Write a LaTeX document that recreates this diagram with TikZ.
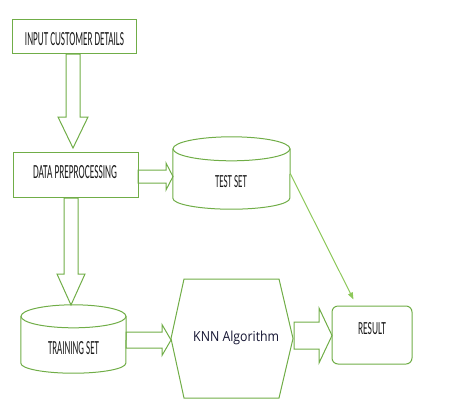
\documentclass[tikz,border=0pt]{standalone}
\usepackage{graphicx}
\usepackage{fontspec}
\setmainfont{Carlito}
\newfontfamily\knnfont{Open Sans}
\usetikzlibrary{calc,arrows.meta}
\definecolor{grn}{HTML}{70AD47}
\definecolor{lgrn}{HTML}{8DC85A}
\definecolor{txt}{HTML}{1A1A1A}
\definecolor{navy}{HTML}{141432}
\newcommand\sqtext[3]{\resizebox{#1pt}{#2pt}{#3}}
\newcommand\barrowdown[5]{\draw[blk] let \p1=(#1),\p2=(#2) in
  (\x1-#3pt,\y1) -- (\x1+#3pt,\y1) -- (\x1+#3pt,\y2+#5pt) -- (\x1+#4pt,\y2+#5pt) -- (\x2,\y2) -- (\x1-#4pt,\y2+#5pt) -- (\x1-#3pt,\y2+#5pt) -- cycle;}
\newcommand\barrowright[5]{\draw[blk] let \p1=(#1),\p2=(#2) in
  (\x1,\y1+#3pt) -- (\x2-#5pt,\y1+#3pt) -- (\x2-#5pt,\y1+#4pt) -- (\x2,\y2) -- (\x2-#5pt,\y1-#4pt) -- (\x2-#5pt,\y1-#3pt) -- (\x1,\y1-#3pt) -- cycle;}
\begin{document}
\begin{tikzpicture}[x=1pt,y=-1pt,
  shp/.style={draw=grn,line width=1pt,inner sep=0pt},
  blk/.style={draw=grn,line width=1pt},
  lbl/.style={inner sep=0pt,text=txt},
  link/.style={draw=lgrn,line width=1pt,-{Triangle[length=7pt,width=5pt]}}]
\useasboundingbox (0,0) rectangle (457,402);

% boxes
\node[shp,minimum width=124pt,minimum height=34pt] (inbox) at (74,36) {};
\node[lbl] (intext) at (74.5,39) {\sqtext{99}{13}{INPUT CUSTOMER DETAILS}};

\node[shp,minimum width=125pt,minimum height=45pt] (prep) at (75.5,174.5) {};
\node[lbl] (preptext) at (75,172.5) {\sqtext{84}{13}{DATA PREPROCESSING}};

% test set cylinder
\node[inner sep=0pt,minimum width=117pt,minimum height=49pt] (test) at (231.5,173.5) {};
\draw[blk] (test.north west) -- (test.south west) arc[start angle=180,end angle=360,x radius=58.5pt,y radius=11pt] -- (test.north east);
\draw[blk] (test.north) ellipse[x radius=58.5pt,y radius=12pt];
\node[lbl] (testtext) at (231,182) {\sqtext{32}{12}{TEST SET}};

% training set cylinder
\node[inner sep=0pt,minimum width=105pt,minimum height=46.5pt] (train) at (73.5,339.75) {};
\draw[blk] (train.north west) -- (train.south west) arc[start angle=180,end angle=360,x radius=52.5pt,y radius=10pt] -- (train.north east);
\draw[blk] (train.north) ellipse[x radius=52.5pt,y radius=11.5pt];
\node[lbl] (traintext) at (73.5,348.5) {\sqtext{51}{13}{TRAINING SET}};

% KNN hexagon
\draw[blk] (184,279) -- (279,279) -- (293,338.5) -- (279,398) -- (184,398) -- (171,338.5) -- cycle;
\node[inner sep=0pt,text=navy,anchor=base west] (knn) at (193,341) {\resizebox{86pt}{10.5pt}{\knnfont KNN Algorithm}};

% result
\node[shp,rounded corners=6pt,minimum width=80pt,minimum height=58pt] (result) at (372,335) {};
\node[lbl] (restext) at (372,329) {\sqtext{28}{12}{RESULT}};

% block arrows
\coordinate (a1s) at (73,54);   \coordinate (a1e) at (73,148);
\coordinate (a2s) at (138,176.5); \coordinate (a2e) at (173,176.5);
\coordinate (a3s) at (71,198);  \coordinate (a3e) at (71,305);
\coordinate (a4s) at (126,340); \coordinate (a4e) at (171,340);
\coordinate (a5s) at (294,335.5); \coordinate (a5e) at (332,335.5);
\barrowdown{a1s}{a1e}{7}{15}{31}
\barrowright{a2s}{a2e}{6.5}{13.5}{7}
\barrowdown{a3s}{a3e}{7}{14}{31}
\barrowright{a4s}{a4e}{8}{15.5}{9}
\barrowright{a5s}{a5e}{13.5}{27.5}{13}

% thin link
\coordinate (rtip) at ($(result.north west)+(22,-6)$);
\draw[link] (test.east) -- (rtip);
\end{tikzpicture}
\end{document}
